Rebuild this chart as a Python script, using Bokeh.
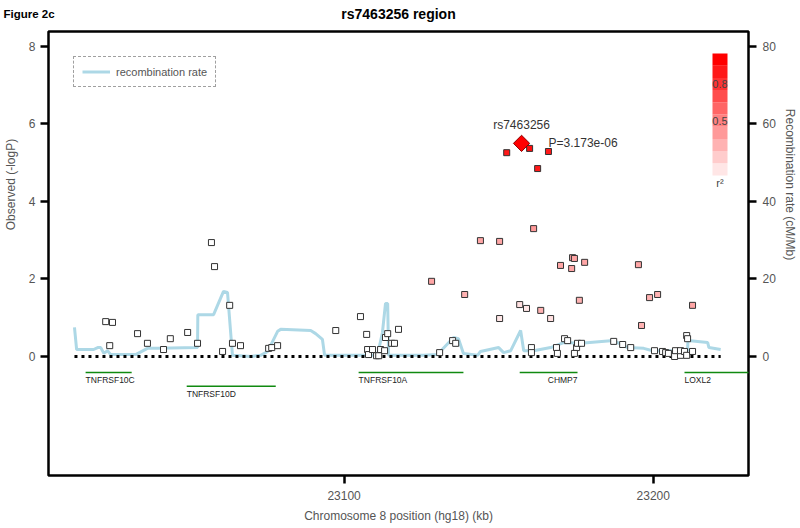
import math
from bokeh.plotting import figure
from bokeh.layouts import column, row
from bokeh.models import (Range1d, LinearAxis, FixedTicker, Label, Legend,
                          LegendItem, ColumnDataSource)
from bokeh.embed import file_html
from bokeh.resources import INLINE
from bokeh.core.properties import value

# ---------------- data ----------------
snp_pos = [23022.9, 23025.1, 23024.2, 23033.2, 23036.4, 23041.6, 23043.8, 23049.4,
           23052.6, 23057.1, 23058.1, 23060.7, 23063.0, 23063.9, 23066.5, 23075.6,
           23076.6, 23078.5, 23097.3, 23105.3, 23107.3, 23107.6, 23107.9, 23109.2,
           23110.5, 23111.2, 23111.8, 23113.1, 23113.4, 23114.1, 23115.4, 23116.3,
           23117.6, 23128.3, 23130.9, 23135.1, 23136.1, 23139.0, 23144.1, 23150.3,
           23150.3, 23152.6, 23160.0, 23166.1, 23162.6, 23161.3, 23156.8, 23159.0,
           23163.6, 23166.8, 23160.6, 23160.6, 23168.7, 23169.0, 23171.3, 23172.3,
           23175.2, 23175.5, 23176.8, 23174.5, 23173.9, 23174.5, 23170.0, 23173.6,
           23177.8, 23176.1, 23187.2, 23190.1, 23192.7, 23195.2, 23196.2, 23198.8,
           23201.4, 23200.4, 23203.0, 23204.0, 23204.9, 23206.9, 23207.2, 23208.8,
           23208.8, 23210.1, 23210.8, 23211.1, 23210.8, 23212.7, 23212.7]
snp_logp = [0.90, 0.88, 0.28, 0.59, 0.34, 0.18, 0.46, 0.62,
            0.34, 2.94, 2.32, 0.13, 1.32, 0.34, 0.28, 0.21,
            0.23, 0.28, 0.67, 1.03, 0.57, 0.18, 0.05, 0.18,
            0.02, 0.02, 0.18, 0.15, 0.49, 0.59, 0.34, 0.34,
            0.70, 1.94, 0.10, 0.41, 0.34, 1.60, 2.99, 2.97,
            0.98, 5.26, 5.37, 5.29, 4.85, 3.30, 1.34, 1.24,
            1.19, 0.98, 0.23, 0.10, 0.23, 0.08, 0.46, 0.41,
            0.23, 0.34, 0.34, 0.08, 2.55, 2.53, 2.35, 2.27,
            2.43, 1.45, 0.39, 0.31, 0.23, 2.37, 0.80, 1.52,
            1.60, 0.15, 0.13, 0.10, 0.08, 0.00, 0.15, 0.03,
            0.15, 0.13, 0.54, 0.46, 0.03, 0.13, 1.32]
snp_r2 = [0.0, 0.0, 0.0, 0.0, 0.0, 0.0, 0.0, 0.0,
          0.0, 0.0, 0.0, 0.0, 0.0, 0.0, 0.0, 0.0,
          0.0, 0.0, 0.0, 0.0, 0.0, 0.0, 0.0, 0.0,
          0.0, 0.0, 0.0, 0.0, 0.0, 0.0, 0.0, 0.0,
          0.0, 0.35, 0.0, 0.0, 0.0, 0.3, 0.35, 0.35,
          0.1, 0.9, 0.95, 0.9, 0.9, 0.4, 0.12, 0.1,
          0.3, 0.12, 0.0, 0.0, 0.0, 0.0, 0.0, 0.0,
          0.0, 0.0, 0.0, 0.0, 0.35, 0.35, 0.35, 0.35,
          0.35, 0.3, 0.0, 0.0, 0.0, 0.35, 0.3, 0.3,
          0.3, 0.0, 0.0, 0.0, 0.0, 0.0, 0.0, 0.0,
          0.0, 0.0, 0.0, 0.0, 0.0, 0.0, 0.35]

index_snp = "rs7463256"
index_pos = [23157.4]
index_logp = [5.50]
index_pval = "P=3.173e-06"

recomb_pos = [23012.8, 23013.5, 23019.0, 23020.3, 23021.3, 23022.3, 23023.5, 23024.5,
              23032.6, 23036.4, 23039.7, 23052.6, 23052.7, 23057.8, 23061.0, 23062.3,
              23063.9, 23069.8, 23073.0, 23075.3, 23078.5, 23079.5, 23089.2, 23090.8,
              23093.0, 23093.7, 23110.8, 23112.4, 23113.4, 23114.1, 23114.4, 23125.7,
              23130.2, 23135.4, 23137.0, 23138.6, 23143.2, 23144.1, 23150.0, 23151.6,
              23153.9, 23157.1, 23158.1, 23161.3, 23166.8, 23171.0, 23176.5, 23187.2,
              23191.7, 23196.9, 23199.8, 23206.6, 23211.1, 23211.2, 23217.6, 23218.0,
              23221.8]
recomb_rate = [7.5, 1.8, 1.8, 2.3, 2.3, 0.8, 1.5, 0.5,
               0.5, 2.1, 2.1, 2.3, 10.8, 10.8, 16.8, 16.5,
               0.3, 0.0, 0.3, 1.3, 6.5, 7.0, 6.7, 5.9,
               4.4, 0.3, 0.3, 6.2, 13.7, 13.7, 0.3, 0.3,
               0.5, 4.9, 4.6, 0.8, 0.3, 1.3, 2.3, 1.0,
               1.5, 6.7, 1.5, 1.5, 2.3, 3.6, 3.4, 4.1,
               2.3, 2.1, 1.5, 1.5, 1.5, 4.1, 3.6, 2.3,
               1.8]

gene_names = ["TNFRSF10C", "TNFRSF10D", "TNFRSF10A", "CHMP7", "LOXL2"]
gene_start = [23016.4, 23049.1, 23104.7, 23156.8, 23210.1]
gene_end = [23031.3, 23077.9, 23138.6, 23175.5, 23260.0]
gene_row = [0, 1, 0, 0, 0]
gene_label_anchor = ["start", "start", "start", "end", "start"]

y_ticks = [0, 2, 4, 6, 8]
recomb_ticks = [0, 20, 40, 60, 80]
x_ticks = [23100, 23200]
r2_legend_levels = [0.1, 0.2, 0.3, 0.4, 0.5, 0.6, 0.7, 0.8, 0.9, 1.0]
r2_legend_labels = {0.8: "0.8", 0.5: "0.5"}

# ---------------- layout (page pixels) ----------------
PAGE_W, PAGE_H = 800, 528
HDR_H = 29                     # strip holding the titles
LEFT_W, RIGHT_W = 20, 22       # strips holding the rotated axis titles
PFL, PFR, PFT, PFB = 48, 748, 31, 475   # plot box on the page
X0, X1 = 23004.4, 23230.8
Y0, Y1 = -3.071, 8.387
RECOMB_SCALE = 10.0            # cM/Mb per -logP unit

BODY_H = PAGE_H - HDR_H
MAIN_W = PAGE_W - LEFT_W - RIGHT_W

def x_at(px):
    return X0 + (px - PFL) * (X1 - X0) / (PFR - PFL)

def page_y_of(v):
    return PFT + (Y1 - v) * (PFB - PFT) / (Y1 - Y0)

FONT = "Liberation Sans"
GREY = "#555555"

def r2_color(r):
    g = int(round(255 * (1 - r)))
    return "#%02x%02x%02x" % (255, g, g)

def strip(w, h):
    f = figure(width=w, height=h, x_range=Range1d(0, w), y_range=Range1d(h, 0),
               output_backend="svg", toolbar_location=None, x_axis_type=None,
               y_axis_type=None, min_border=0, outline_line_color=None)
    return f

# header with titles
hdr = strip(PAGE_W, HDR_H)
hdr.add_layout(Label(x=3, y=13, text="Figure 2c", text_align="left",
                     text_baseline="middle", text_font=FONT, text_font_size="11.5px",
                     text_font_style="bold", text_color="black"))
hdr.add_layout(Label(x=(PFL + PFR) / 2, y=13, text="rs7463256 region", text_align="center",
                     text_baseline="middle", text_font=FONT, text_font_size="14px",
                     text_font_style="bold", text_color="black"))

# side strips with the axis titles, centred on the upper half of the y scale
title_y = page_y_of((min(y_ticks) + max(y_ticks)) / 2) - HDR_H
lstrip = strip(LEFT_W, BODY_H)
lstrip.add_layout(Label(x=10, y=title_y, text="Observed (-logP)", angle=math.pi / 2,
                        text_align="center", text_baseline="middle", text_font=FONT,
                        text_font_size="12px", text_color=GREY))
rstrip = strip(RIGHT_W, BODY_H)
rstrip.add_layout(Label(x=11.5, y=title_y, text="Recombination rate (cM/Mb)",
                        angle=-math.pi / 2, text_align="center", text_baseline="middle",
                        text_font=FONT, text_font_size="12px", text_color=GREY))

# main plot
p = figure(width=MAIN_W, height=BODY_H, x_range=Range1d(X0, X1), y_range=Range1d(Y0, Y1),
           output_backend="svg", toolbar_location=None,
           min_border_left=PFL - LEFT_W, min_border_right=PAGE_W - RIGHT_W - PFR,
           min_border_top=PFT - HDR_H, min_border_bottom=PAGE_H - PFB)
p.extra_y_ranges = {"recomb": Range1d(Y0 * RECOMB_SCALE, Y1 * RECOMB_SCALE)}
p.xgrid.visible = False
p.ygrid.visible = False
p.outline_line_color = "black"
p.outline_line_width = 2.5
p.background_fill_color = "white"
p.border_fill_color = "white"

def style_axis(ax):
    ax.axis_line_color = None
    ax.major_tick_line_color = "black"
    ax.major_tick_line_width = 2.5
    ax.major_tick_out = 8
    ax.major_tick_in = 0
    ax.minor_tick_line_color = None
    ax.major_label_text_font = FONT
    ax.major_label_text_font_size = "12px"
    ax.major_label_text_color = GREY
    ax.axis_label_text_font = FONT
    ax.axis_label_text_font_size = "12px"
    ax.axis_label_text_font_style = "normal"
    ax.axis_label_text_color = GREY

yax = p.yaxis[0]
yax.ticker = FixedTicker(ticks=y_ticks)
yax.major_label_standoff = 5
style_axis(yax)

xax = p.xaxis[0]
xax.ticker = FixedTicker(ticks=x_ticks)
xax.major_label_overrides = {t: str(t) for t in x_ticks}
xax.axis_label = "Chromosome 8 position (hg18) (kb)"
xax.major_label_standoff = 7
xax.axis_label_standoff = 6
style_axis(xax)

rax = LinearAxis(y_range_name="recomb", ticker=FixedTicker(ticks=recomb_ticks))
rax.major_label_standoff = 6
style_axis(rax)
p.add_layout(rax, "right")

# recombination rate
rsrc = ColumnDataSource(dict(x=recomb_pos, y=[r / RECOMB_SCALE for r in recomb_rate]))
rline = p.line("x", "y", source=rsrc, line_color="#add8e6", line_width=3)

# zero line across the region
p.line([min(recomb_pos), max(recomb_pos)], [0, 0], line_color="black",
       line_width=3, line_dash="3 4")

# genes
ROW_Y = [-0.41, -0.77]
LABEL_DY = -0.19
gsrc = ColumnDataSource(dict(
    x0=gene_start, x1=gene_end,
    y=[ROW_Y[r] for r in gene_row],
    lx=[s if a == "start" else e for s, e, a in zip(gene_start, gene_end, gene_label_anchor)],
    ly=[ROW_Y[r] + LABEL_DY for r in gene_row],
    align=["left" if a == "start" else "right" for a in gene_label_anchor],
    name=gene_names))
p.segment(x0="x0", x1="x1", y0="y", y1="y", source=gsrc, line_color="#108a10", line_width=1.5)
p.text(x="lx", y="ly", text="name", source=gsrc, text_align="align",
       text_baseline="middle", text_font=value(FONT), text_font_size="8.5px",
       text_color="#222222")

# SNPs
ssrc = ColumnDataSource(dict(x=snp_pos, y=snp_logp, c=[r2_color(r) for r in snp_r2]))
p.scatter("x", "y", source=ssrc, marker="square", size=6, fill_color="c",
          line_color="#333333", line_width=1)

# index SNP
p.scatter(index_pos, index_logp, marker="square", angle=math.pi / 4, size=11.5,
          fill_color="#ff0000", line_color="#8b0000", line_width=1)
p.add_layout(Label(x=index_pos[0], y=index_logp[0], y_offset=11, text=index_snp,
                   text_align="center", text_baseline="bottom", text_font=FONT,
                   text_font_size="12px", text_color="#333333"))
p.add_layout(Label(x=index_pos[0], y=index_logp[0], x_offset=27, text=index_pval,
                   text_align="left", text_baseline="middle", text_font=FONT,
                   text_font_size="12px", text_color="#333333"))

# r^2 colour key
KEY_X0, KEY_X1 = x_at(712), x_at(727)
KEY_BOTTOM, KEY_STEP = 4.67, 0.315
ksrc = ColumnDataSource(dict(
    left=[KEY_X0] * len(r2_legend_levels), right=[KEY_X1] * len(r2_legend_levels),
    bottom=[KEY_BOTTOM + i * KEY_STEP for i in range(len(r2_legend_levels))],
    top=[KEY_BOTTOM + (i + 1) * KEY_STEP for i in range(len(r2_legend_levels))],
    c=[r2_color(r) for r in r2_legend_levels]))
p.quad(left="left", right="right", bottom="bottom", top="top", source=ksrc,
       fill_color="c", line_color=None)
for i, r in enumerate(r2_legend_levels):
    if r in r2_legend_labels:
        p.add_layout(Label(x=(KEY_X0 + KEY_X1) / 2, y=KEY_BOTTOM + (i + 0.5) * KEY_STEP,
                           text=r2_legend_labels[r], text_align="center",
                           text_baseline="middle", text_font=FONT,
                           text_font_size="11px", text_color="#444444"))
p.add_layout(Label(x=(KEY_X0 + KEY_X1) / 2, y=KEY_BOTTOM - 0.05, text="r²",
                   text_align="center", text_baseline="top", text_font=FONT,
                   text_font_size="11px", text_color="#444444"))

# legend
leg = Legend(items=[LegendItem(label="recombination rate", renderers=[rline])],
             location="top_left", margin=25, padding=8, glyph_width=28,
             glyph_height=13, label_height=13, label_standoff=6,
             label_text_font=FONT, label_text_font_size="11px",
             label_text_color=GREY, border_line_color="#444444",
             border_line_dash="1 2", border_line_width=1,
             background_fill_alpha=0.0)
p.add_layout(leg)

layout = column(hdr, row(lstrip, p, rstrip, spacing=0), spacing=0)
open("out.html", "w").write(file_html(layout, INLINE))
